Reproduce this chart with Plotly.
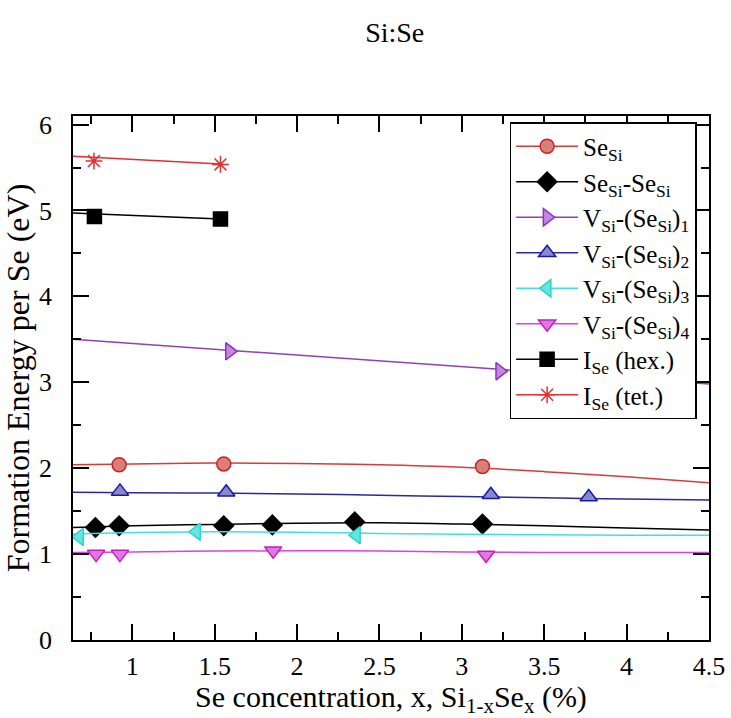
import plotly.graph_objects as go

# ---------------- data ----------------
# Data points
sesi_x = [0.92, 1.555, 3.125]
sesi_y = [2.04, 2.05, 2.02]

sesi2_x = [0.776, 0.92, 1.555, 1.85, 2.35, 3.125]
sesi2_y = [1.31, 1.33, 1.33, 1.34, 1.375, 1.35]

v1_x = [1.59, 3.23]
v1_y = [3.36, 3.13]

v2_x = [0.925, 1.57, 3.176, 3.77]
v2_y = [1.73, 1.72, 1.69, 1.665]

v3_x = [0.68, 1.39, 2.36]
v3_y = [1.20, 1.26, 1.22]

v4_x = [0.78, 0.925, 1.855, 3.147]
v4_y = [1.00, 1.00, 1.04, 0.99]

ihex_x = [0.77, 1.535]
ihex_y = [4.93, 4.90]

itet_x = [0.767, 1.535]
itet_y = [5.575, 5.536]

# Fitted curves
fit_x = [0.64, 1.0, 1.5, 2.0, 2.5, 3.0, 3.5, 4.0, 4.5]
sesi_fit = [2.04, 2.05, 2.06, 2.055, 2.04, 2.01, 1.96, 1.90, 1.83]
sesi2_fit = [1.31, 1.33, 1.345, 1.36, 1.365, 1.35, 1.33, 1.305, 1.28]
v2_fit = [1.72, 1.715, 1.71, 1.70, 1.685, 1.67, 1.655, 1.64, 1.63]
v3_fit = [1.235, 1.25, 1.26, 1.255, 1.24, 1.23, 1.225, 1.22, 1.22]
v4_fit = [1.02, 1.025, 1.035, 1.04, 1.035, 1.025, 1.02, 1.02, 1.02]

v1_fit_x = [0.64, 4.5]
v1_fit = [3.50, 2.98]

ihex_fit_x = [0.64, 1.535]
ihex_fit = [4.97, 4.90]
itet_fit_x = [0.64, 1.535]
itet_fit = [5.63, 5.54]

# Tick labels
x_ticks = [1, 1.5, 2, 2.5, 3, 3.5, 4, 4.5]
y_ticks = [0, 1, 2, 3, 4, 5, 6]

FONT = "Liberation Serif, Times New Roman, serif"

series = [
    dict(name="Se<sub>Si</sub>", x=sesi_x, y=sesi_y, fx=fit_x, fy=sesi_fit,
         line="#d83a3a", symbol="circle", size=14, fill="#d88078", edge="#cc2020"),
    dict(name="Se<sub>Si</sub>-Se<sub>Si</sub>", x=sesi2_x, y=sesi2_y, fx=fit_x, fy=sesi2_fit,
         line="#000000", symbol="diamond", size=15, fill="#000000", edge="#000000"),
    dict(name="V<sub>Si</sub>-(Se<sub>Si</sub>)<sub>1</sub>", x=v1_x, y=v1_y, fx=v1_fit_x, fy=v1_fit,
         line="#9040b0", symbol="triangle-right", size=15, fill="#c088e0", edge="#9030c0"),
    dict(name="V<sub>Si</sub>-(Se<sub>Si</sub>)<sub>2</sub>", x=v2_x, y=v2_y, fx=fit_x, fy=v2_fit,
         line="#2a2a9a", symbol="triangle-up", size=15, fill="#8888cc", edge="#1a1aa0"),
    dict(name="V<sub>Si</sub>-(Se<sub>Si</sub>)<sub>3</sub>", x=v3_x, y=v3_y, fx=fit_x, fy=v3_fit,
         line="#40e0e0", symbol="triangle-left", size=15, fill="#60e8e0", edge="#30d0d0"),
    dict(name="V<sub>Si</sub>-(Se<sub>Si</sub>)<sub>4</sub>", x=v4_x, y=v4_y, fx=fit_x, fy=v4_fit,
         line="#e040e0", symbol="triangle-down", size=15, fill="#e078e0", edge="#c020c0"),
    dict(name="I<sub>Se</sub> (hex.)", x=ihex_x, y=ihex_y, fx=ihex_fit_x, fy=ihex_fit,
         line="#000000", symbol="square", size=14, fill="#000000", edge="#000000"),
    dict(name="I<sub>Se</sub> (tet.)", x=itet_x, y=itet_y, fx=itet_fit_x, fy=itet_fit,
         line="#e03030", symbol="asterisk-open", size=14, fill="#e03030", edge="#e03030"),
]

fig = go.Figure()

for s in series:
    # fitted curve
    fig.add_trace(go.Scatter(x=s["fx"], y=s["fy"], mode="lines", showlegend=False,
                             line=dict(color=s["line"], width=1.5, shape="spline"),
                             hoverinfo="skip"))
    # data markers
    fig.add_trace(go.Scatter(x=s["x"], y=s["y"], mode="markers", showlegend=False,
                             marker=dict(symbol=s["symbol"], size=s["size"], color=s["fill"],
                                         line=dict(color=s["edge"], width=1.5))))
    # legend entry
    fig.add_trace(go.Scatter(x=[None], y=[None], mode="lines+markers", name=s["name"],
                             line=dict(color=s["line"], width=1.5),
                             marker=dict(symbol=s["symbol"], size=s["size"], color=s["fill"],
                                         line=dict(color=s["edge"], width=1.5))))

axis_common = dict(
    showline=True, linecolor="black", linewidth=1.5, mirror="ticks",
    ticks="inside", ticklen=16, tickwidth=1.5, tickcolor="black",
    showgrid=False, zeroline=False, automargin=False,
    tickfont=dict(family=FONT, size=26, color="black"),
)

fig.update_xaxes(
    range=[0.64, 4.5], tickmode="array", tickvals=x_ticks,
    ticktext=[str(v) for v in x_ticks], ticklabelstandoff=2,
    minor=dict(dtick=0.25, tick0=0, ticks="inside", ticklen=8, tickwidth=1.5, tickcolor="black"),
    title=dict(text="Se concentration, x, Si<sub>1-x</sub>Se<sub>x</sub> (%)",
               font=dict(family=FONT, size=30, color="black")),
    **axis_common,
)
fig.update_yaxes(
    range=[0, 6.1], tickmode="array", tickvals=y_ticks,
    ticktext=[str(v) for v in y_ticks], ticklabelstandoff=14,
    minor=dict(dtick=0.5, tick0=0, ticks="inside", ticklen=8, tickwidth=1.5, tickcolor="black"),
    title=dict(text="Formation Energy per Se (eV)",
               font=dict(family=FONT, size=32, color="black")),
    **axis_common,
)

fig.update_layout(
    width=731, height=718,
    margin=dict(l=73, r=22, t=116, b=78),
    paper_bgcolor="white", plot_bgcolor="white",
    font=dict(family=FONT, color="black"),
    title=dict(text="Si:Se", x=0.54, xanchor="center", y=0.955, yanchor="middle",
               font=dict(family=FONT, size=28, color="black")),
    legend=dict(x=0.6865, y=0.9885, xanchor="left", yanchor="top",
                bgcolor="white", bordercolor="black", borderwidth=1.5,
                font=dict(family=FONT, size=25, color="black"),
                tracegroupgap=0, itemwidth=62),
    showlegend=True,
)

fig.write_html("out.html", config={"displayModeBar": False},
               post_script="document.body.style.margin='0';document.body.style.overflow='hidden';")
